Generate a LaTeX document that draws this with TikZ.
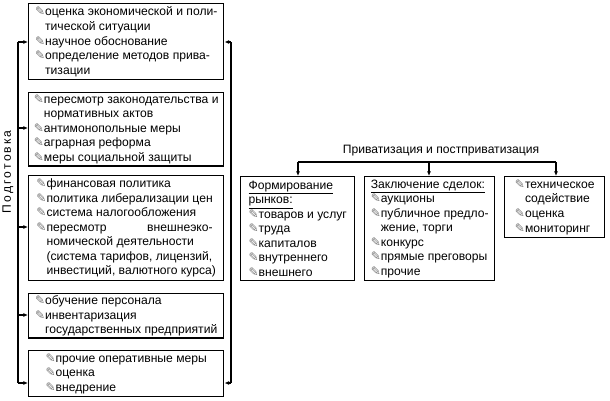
\documentclass[tikz,border=0pt]{standalone}
\usepackage{fontspec}
\setmainfont{Liberation Sans}
\newfontfamily\symfont{DejaVu Sans}
\usetikzlibrary{arrows.meta,positioning,calc}
\newcommand{\pen}{{\color{black!55}\symfont\small ✎}}
\newcommand{\ind}{\phantom{\pen}}
\begin{document}
\begin{tikzpicture}[x=0.75pt,y=-0.75pt,
  box/.style={rectangle, draw, line width=1.1pt, anchor=north west, align=left, inner sep=1.5pt,
    font=\fontsize{9.1}{10.9}\selectfont},
  arrow/.style={-{Latex[length=3.5pt,width=3pt]}, line width=0.9pt},
  line/.style={line width=0.9pt}
]
  \useasboundingbox (0,0) rectangle (610,400);

  % left column
  \node[box, minimum width=195*0.75pt, minimum height=76*0.75pt] (econ) at (28,3)
    {\pen оценка экономической и поли-\\\ind тической ситуации\\\pen научное обоснование\\\pen определение методов прива-\\\ind тизации};
  \node[box, minimum width=195*0.75pt, minimum height=73*0.75pt] (law) at (28,92)
    {\pen пересмотр законодательства и\\\ind нормативных актов\\\pen антимонопольные меры\\\pen аграрная реформа\\\pen меры социальной защиты};
  \node[box, minimum width=195*0.75pt, minimum height=105*0.75pt] (fin) at (28,175)
    {\pen финансовая политика\\\pen политика либерализации цен\\\pen система налогообложения\\\pen пересмотр\hfill внешнеэко-\\\ind номической деятельности\\\ind (система тарифов, лицензий,\\\ind инвестиций, валютного курса)};
  \node[box, minimum width=195*0.75pt, minimum height=44*0.75pt] (staff) at (28,293)
    {\pen обучение персонала\\\pen инвентаризация\\\ind государственных предприятий};
  \node[box, minimum width=195*0.75pt, minimum height=46*0.75pt] (other) at (28,350)
    {\pen прочие оперативные меры\\\pen оценка\\\pen внедрение};

  \node[rotate=90, font=\fontsize{9.1}{11}\selectfont] (prep) at (8,172)
    {П\,о\,д\,г\,о\,т\,о\,в\,к\,а};

  % left bracket
  \coordinate (ltop) at (18,42);
  \coordinate (lbot) at (18,383);
  \draw[line] (ltop) -- (lbot);
  \foreach \b/\yy in {econ/42, law/128, fin/227, staff/315, other/383}
    \draw[arrow] (18,\yy) -- (\b.west |- 0,\yy);

  % right bracket
  \coordinate (rtop) at (231,42);
  \coordinate (rbot) at (231,383);
  \draw[line] (rtop) -- (rbot);
  \draw[arrow] (rtop) -- (econ.east |- rtop);
  \draw[arrow] (rbot) -- (other.east |- rbot);

  % right part
  \node[font=\fontsize{9.1}{10.9}\selectfont] (priv) at (441,151) {Приватизация и постприватизация};
  \node[box, minimum width=114*0.75pt, minimum height=104*0.75pt] (market) at (240,176)
    {\underline{Формирование}\\\underline{рынков:}\\\pen товаров и услуг\\\pen труда\\\pen капиталов\\\pen внутреннего\\\pen внешнего};
  \node[box, minimum width=130*0.75pt, minimum height=104*0.75pt] (deal) at (364,176)
    {\underline{Заключение сделок:}\\\pen аукционы\\\pen публичное предло-\\\ind жение, торги\\\pen конкурс\\\pen прямые преговоры\\\pen прочие};
  \node[box, minimum width=100*0.75pt, minimum height=61*0.75pt] (tech) at (504,176)
    {\pen техническое\\\ind содействие\\\pen оценка\\\pen мониторинг};

  \coordinate (hl) at (298,162);
  \coordinate (hr) at (556,162);
  \draw[line] (hl) -- (hr);
  \draw[line] (priv.south) -- (priv.south |- hl);
  \draw[arrow] (hl) -- (market.north -| hl);
  \draw[arrow] (429,162) -- (deal.north -| 429,0);
  \draw[arrow] (hr) -- (tech.north -| hr);
\end{tikzpicture}
\end{document}
